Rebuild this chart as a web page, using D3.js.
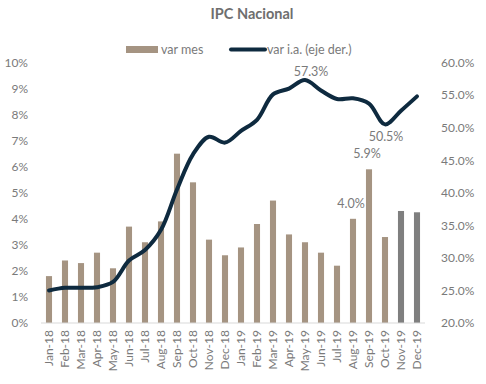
<!DOCTYPE html>
<html>
<head>
<meta charset="utf-8">
<script src="https://cdn.jsdelivr.net/npm/d3@7"></script>
<style>
  body { margin: 0; background: #fff; }
  svg text { font-family: Lato, "Open Sans", sans-serif; }
</style>
</head>
<body>
<svg id="chart" width="486" height="384"></svg>
<script>
var months = ["Jan-18","Feb-18","Mar-18","Apr-18","May-18","Jun-18","Jul-18","Aug-18","Sep-18","Oct-18","Nov-18","Dec-18",
  "Jan-19","Feb-19","Mar-19","Apr-19","May-19","Jun-19","Jul-19","Aug-19","Sep-19","Oct-19","Nov-19","Dec-19"];
var varMes = [1.8, 2.4, 2.3, 2.7, 2.1, 3.7, 3.1, 3.9, 6.5, 5.4, 3.2, 2.6,
  2.9, 3.8, 4.7, 3.4, 3.1, 2.7, 2.2, 4.0, 5.9, 3.3, 4.3, 4.25];
var varIa = [25.0, 25.4, 25.4, 25.5, 26.3, 29.6, 31.2, 34.3, 40.5, 45.9, 48.6, 47.7,
  49.5, 51.2, 55.1, 56.0, 57.3, 55.7, 54.4, 54.5, 53.7, 50.5, 52.6, 54.8];
var leftTicks = [0, 1, 2, 3, 4, 5, 6, 7, 8, 9, 10];
var rightTicks = [20, 25, 30, 35, 40, 45, 50, 55, 60];
var grayMonths = ["Nov-19", "Dec-19"];
// which points get a value label, and where (above/below)
var barLabels = ["Aug-19", "Sep-19"];
var lineLabels = { "May-19": "above", "Oct-19": "below" };

var svg = d3.select("#chart");
var plotLeft = 41, plotRight = 425, plotTop = 62.5, plotBottom = 323;
var textGray = "#7a7a7a";

var x = d3.scaleBand().domain(months).range([plotLeft, plotRight]).paddingInner(0.62).paddingOuter(0.31);
var yL = d3.scaleLinear().domain([0, 10]).range([plotBottom, plotTop]);
var yR = d3.scaleLinear().domain([20, 60]).range([plotBottom, plotTop]);

// title
svg.append("text")
  .attr("x", 252).attr("y", 19)
  .attr("text-anchor", "middle")
  .attr("font-size", 14.5).attr("font-weight", "bold")
  .attr("fill", "#6e6e6e")
  .text("IPC Nacional");

// legend
var lg = svg.append("g");
lg.append("rect").attr("x", 126).attr("y", 46).attr("width", 32).attr("height", 7).attr("fill", "#a59482");
lg.append("text").attr("x", 161).attr("y", 53.5).attr("font-size", 12.5).attr("fill", textGray).text("var mes");
lg.append("line").attr("x1", 231).attr("x2", 265).attr("y1", 49.5).attr("y2", 49.5)
  .attr("stroke", "#0e2a3f").attr("stroke-width", 4).attr("stroke-linecap", "round");
lg.append("text").attr("x", 267).attr("y", 53.5).attr("font-size", 12.5).attr("fill", textGray).text("var i.a. (eje der.)");

// left axis
var leftAxis = d3.axisLeft(yL).tickValues(leftTicks).tickSize(0).tickPadding(0)
  .tickFormat(function(d) { return d + "%"; });
svg.append("g")
  .attr("transform", "translate(28,0)")
  .call(leftAxis)
  .call(function(g) { g.select(".domain").remove(); })
  .selectAll("text").attr("font-size", 12).attr("fill", textGray).attr("font-family", "Lato, sans-serif");

// right axis
var rightAxis = d3.axisRight(yR).tickValues(rightTicks).tickSize(0).tickPadding(0)
  .tickFormat(function(d) { return d.toFixed(1) + "%"; });
svg.append("g")
  .attr("transform", "translate(441,0)")
  .call(rightAxis)
  .call(function(g) { g.select(".domain").remove(); })
  .selectAll("text").attr("font-size", 12).attr("fill", textGray).attr("font-family", "Lato, sans-serif");

// bars
svg.selectAll("rect.bar")
  .data(months)
  .enter()
  .append("rect")
  .attr("class", "bar")
  .attr("x", function(d) { return x(d); })
  .attr("width", x.bandwidth())
  .attr("y", function(d, i) { return yL(varMes[i]); })
  .attr("height", function(d, i) { return plotBottom - yL(varMes[i]); })
  .attr("fill", function(d) { return grayMonths.indexOf(d) >= 0 ? "#7f7f7f" : "#a59482"; });

// x axis
var xAxis = d3.axisBottom(x).tickSize(0).tickPadding(0);
svg.append("g")
  .attr("transform", "translate(0," + plotBottom + ")")
  .call(xAxis)
  .call(function(g) {
    g.select(".domain").attr("stroke", "#d9d9d9").attr("d", "M" + plotLeft + ",0H" + plotRight);
  })
  .selectAll("text")
  .attr("font-size", 12).attr("fill", textGray).attr("font-family", "Lato, sans-serif")
  .attr("text-anchor", "end")
  .attr("y", 0).attr("x", 0)
  .attr("dy", "0.35em")
  .attr("transform", "translate(0,7) rotate(-90)");

// line
var line = d3.line()
  .x(function(d, i) { return x(months[i]) + x.bandwidth() / 2; })
  .y(function(d) { return yR(d); })
  .curve(d3.curveCatmullRom.alpha(0.5));

svg.append("path")
  .datum(varIa)
  .attr("d", line)
  .attr("fill", "none")
  .attr("stroke", "#0e2a3f")
  .attr("stroke-width", 4)
  .attr("stroke-linecap", "round");

// value labels
barLabels.forEach(function(m) {
  var i = months.indexOf(m);
  svg.append("text")
    .attr("x", x(m) + x.bandwidth() / 2 - 2)
    .attr("y", yL(varMes[i]) - 11)
    .attr("text-anchor", "middle")
    .attr("font-size", 12.5).attr("fill", textGray)
    .text(varMes[i].toFixed(1) + "%");
});

Object.keys(lineLabels).forEach(function(m) {
  var i = months.indexOf(m);
  var above = lineLabels[m] == "above";
  svg.append("text")
    .attr("x", x(m) + x.bandwidth() / 2 + (above ? 6 : 1))
    .attr("y", yR(varIa[i]) + (above ? -4 : 17))
    .attr("text-anchor", "middle")
    .attr("font-size", 12.5).attr("fill", textGray)
    .text(varIa[i].toFixed(1) + "%");
});
</script>
</body>
</html>
